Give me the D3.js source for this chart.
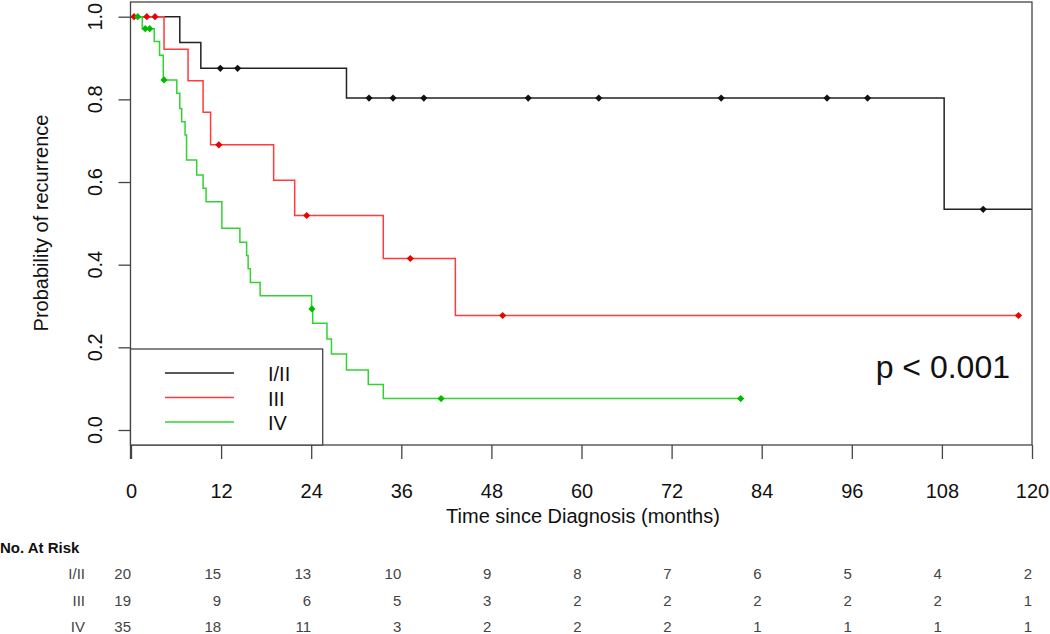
<!DOCTYPE html>
<html>
<head>
<meta charset="utf-8">
<script src="https://cdn.jsdelivr.net/npm/d3@7"></script>
<style>
  html, body { margin: 0; padding: 0; background: #fff; }
  svg { display: block; }
  text { font-family: "Liberation Sans", Arial, sans-serif; fill: #111; }
</style>
</head>
<body>
<svg id="chart" width="1050" height="634"></svg>
<script>
// ---------------- DATA ----------------
const groupNames = ["I/II", "III", "IV"];
const groupColors = ["#222222", "#ff3b3b", "#33d233"];
const markerColors = ["#111111", "#ee0000", "#00bb00"];

const timeTicks = [0, 12, 24, 36, 48, 60, 72, 84, 96, 108, 120];
const probTicks = [0, 0.2, 0.4, 0.6, 0.8, 1.0];

// step drops: [time (months), probability after drop]
const dropsI = [[6.5, 0.9375], [9.3, 0.875], [28.7, 0.803], [108.3, 0.534]];
const censorI = [11.9, 14.2, 31.7, 34.9, 39.0, 52.9, 62.3, 78.6, 92.7, 98.1, 113.5];
const endI = 120;

const dropsIII = [[4.4, 0.921], [7.6, 0.845], [9.6, 0.769], [10.6, 0.69], [19.0, 0.604],
                  [21.8, 0.519], [33.6, 0.415], [43.2, 0.277]];
const censorIII = [0.4, 2.1, 3.2, 11.7, 23.4, 37.2, 49.5, 118.2];
const endIII = 118.2;

const dropsIV = [[1.5, 0.971], [3.1, 0.94], [3.8, 0.907], [4.3, 0.847], [6.1, 0.815],
                 [6.5, 0.778], [6.75, 0.746], [7.2, 0.714], [7.4, 0.653], [8.75, 0.617],
                 [9.6, 0.585], [10.0, 0.552], [12.1, 0.488], [14.5, 0.454], [15.4, 0.422],
                 [15.6, 0.39], [15.9, 0.357], [17.2, 0.325], [24.05, 0.293], [24.2, 0.258],
                 [26.1, 0.22], [26.7, 0.184], [28.7, 0.145], [31.6, 0.11], [33.6, 0.076]];
const censorIV = [0.9, 1.9, 2.5, 4.4, 24.1, 41.3, 81.2];
const endIV = 81.2;

const riskI = [20, 15, 13, 10, 9, 8, 7, 6, 5, 4, 2];
const riskIII = [19, 9, 6, 5, 3, 2, 2, 2, 2, 2, 1];
const riskIV = [35, 18, 11, 3, 2, 2, 2, 1, 1, 1, 1];

const pValueText = "p < 0.001";

// ---------------- CHART ----------------
const svg = d3.select("#chart");
svg.append("rect").attr("width", 1050).attr("height", 634).attr("fill", "#fff");

const x = d3.scaleLinear().domain([0, 120]).range([131, 1032]);
const y = d3.scaleLinear().domain([0, 1]).range([430, 16.7]);

const box = { left: 130.5, right: 1032, top: 2, bottom: 445 };

const groups = [
  { drops: dropsI, censor: censorI, end: endI },
  { drops: dropsIII, censor: censorIII, end: endIII },
  { drops: dropsIV, censor: censorIV, end: endIV }
];

function survAt(drops, t) {
  let s = 1;
  for (const d of drops) { if (d[0] <= t) s = d[1]; }
  return s;
}

const line = d3.line().x(d => x(d[0])).y(d => y(d[1])).curve(d3.curveStepAfter);

groups.forEach((g, i) => {
  const pts = [[0, 1], ...g.drops, [g.end, g.drops[g.drops.length - 1][1]]];
  svg.append("path")
    .attr("d", line(pts))
    .attr("fill", "none")
    .attr("stroke", groupColors[i])
    .attr("stroke-width", 1.5);
});

const r = 3.6;
groups.forEach((g, i) => {
  svg.append("g").selectAll("path")
    .data(g.censor)
    .join("path")
    .attr("d", t => {
      const cx = x(t), cy = y(survAt(g.drops, t));
      return `M${cx},${cy - r}L${cx + r},${cy}L${cx},${cy + r}L${cx - r},${cy}Z`;
    })
    .attr("fill", markerColors[i]);
});

// plot box
svg.append("rect")
  .attr("x", box.left).attr("y", box.top)
  .attr("width", box.right - box.left).attr("height", box.bottom - box.top)
  .attr("fill", "none").attr("stroke", "#444").attr("stroke-width", 1.3);

// x axis
const xAxis = svg.append("g")
  .attr("transform", `translate(0,${box.bottom})`)
  .call(d3.axisBottom(x).tickValues(timeTicks).tickSize(14).tickSizeOuter(0).tickFormat(d3.format("d")));
xAxis.select(".domain").remove();
xAxis.selectAll(".tick line").attr("stroke", "#444").attr("stroke-width", 1.3);
xAxis.selectAll(".tick text")
  .attr("y", 53).attr("dy", 0)
  .style("font-size", "20px").style("font-family", "'Liberation Sans', Arial, sans-serif")
  .attr("fill", "#111");

svg.append("text")
  .attr("x", 583).attr("y", 523)
  .attr("text-anchor", "middle")
  .style("font-size", "20px")
  .text("Time since Diagnosis (months)");

// y axis
const yAxis = svg.append("g")
  .attr("transform", `translate(${box.left},0)`)
  .call(d3.axisLeft(y).tickValues(probTicks).tickSize(12).tickSizeOuter(0).tickFormat(d3.format(".1f")));
yAxis.select(".domain").remove();
yAxis.selectAll(".tick line").attr("stroke", "#444").attr("stroke-width", 1.3);
yAxis.selectAll(".tick text").remove();
svg.append("line")
  .attr("x1", box.left).attr("x2", box.left)
  .attr("y1", box.bottom).attr("y2", box.bottom + 14)
  .attr("stroke", "#444").attr("stroke-width", 1.3);

svg.append("g").selectAll("text")
  .data(probTicks)
  .join("text")
  .attr("transform", d => `translate(101.5,${y(d)}) rotate(-90)`)
  .attr("text-anchor", "middle")
  .style("font-size", "20px")
  .text(d => d3.format(".1f")(d));

svg.append("text")
  .attr("transform", "translate(48,223) rotate(-90)")
  .attr("text-anchor", "middle")
  .style("font-size", "20px")
  .text("Probability of recurrence");

// legend
const legend = svg.append("g");
legend.append("rect")
  .attr("x", box.left).attr("y", 349)
  .attr("width", 322.7 - box.left).attr("height", box.bottom - 349)
  .attr("fill", "#fff").attr("stroke", "#444").attr("stroke-width", 1.3);
groupNames.forEach((name, i) => {
  const ly = 373 + i * 24.5;
  legend.append("line")
    .attr("x1", 165).attr("x2", 234).attr("y1", ly).attr("y2", ly)
    .attr("stroke", groupColors[i]).attr("stroke-width", 1.5);
  legend.append("text")
    .attr("x", 268).attr("y", ly + 8)
    .style("font-size", "20px")
    .text(name);
});

// p value
svg.append("text")
  .attr("x", 1010).attr("y", 378)
  .attr("text-anchor", "end")
  .style("font-size", "32px")
  .text(pValueText);

// risk table
svg.append("text")
  .attr("x", 0).attr("y", 553)
  .style("font-size", "15px").style("font-weight", "bold")
  .text("No. At Risk");

const riskRows = [riskI, riskIII, riskIV];
const rowY = [579, 606, 632];
riskRows.forEach((row, i) => {
  svg.append("text")
    .attr("x", 85).attr("y", rowY[i])
    .attr("text-anchor", "end")
    .style("font-size", "15px")
    .style("fill", "#444")
    .text(groupNames[i]);
  svg.append("g").selectAll("text")
    .data(row)
    .join("text")
    .attr("x", (d, j) => x(timeTicks[j]))
    .attr("y", rowY[i])
    .attr("text-anchor", "end")
    .style("font-size", "15px")
    .style("fill", "#444")
    .text(d => d);
});
</script>
</body>
</html>
